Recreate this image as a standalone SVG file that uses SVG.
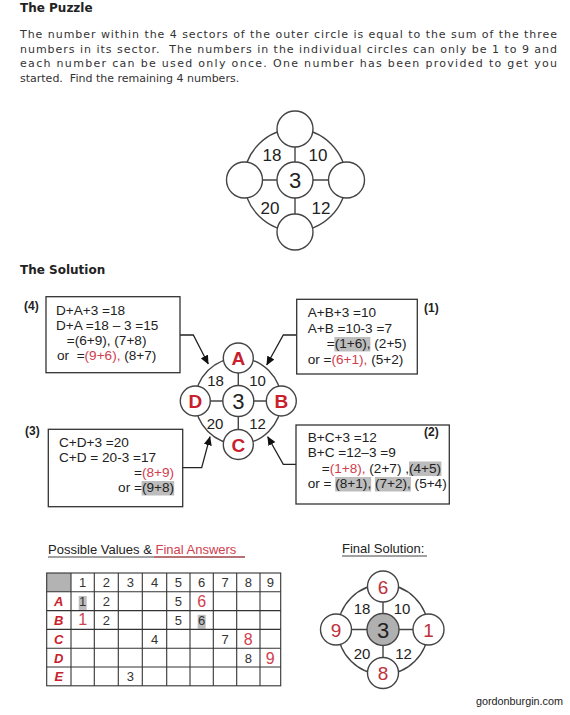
<svg xmlns="http://www.w3.org/2000/svg" width="570" height="715" viewBox="0 0 570 715">
<defs>
<style>
text{font-family:"Liberation Sans",Arial,sans-serif;fill:#222;white-space:pre}
.head{font-family:"DejaVu Sans",Verdana,sans-serif;font-weight:bold;font-size:12px;fill:#222}
.para{font-family:"DejaVu Sans",Verdana,sans-serif;font-size:11px;fill:#333}
.ring{fill:none;stroke:#444;stroke-width:1.4}
.spoke{stroke:#444;stroke-width:1.4}
.node{fill:#fff;stroke:#444;stroke-width:1.4}
.num17{font-size:17px;text-anchor:middle}
.num15{font-size:15px;text-anchor:middle}
.big{font-size:22px;text-anchor:middle}
.let{font-size:19px;font-weight:bold;fill:#c8202c;text-anchor:middle}
.box{fill:#fff;stroke:#333;stroke-width:1.3}
.bt{font-size:13.6px;fill:#222}
.red{fill:#d0404e}
.hl{fill:#bdbdbd}
.tag{font-size:12px;font-weight:bold;fill:#222}
.conn{fill:none;stroke:#222;stroke-width:1.3}
.grid{stroke:#333;stroke-width:1.1}
.tn{font-size:13px;text-anchor:middle;fill:#333}
.tr{font-size:16px;text-anchor:middle;fill:#d0404e}
.rl{font-size:13px;font-weight:bold;font-style:italic;fill:#c8202c;text-anchor:middle}
.fs{font-size:19px;text-anchor:middle;fill:#c0303c}
</style>
<marker id="ah" markerWidth="9" markerHeight="8" refX="8.5" refY="4" orient="auto" markerUnits="userSpaceOnUse">
<path d="M0,0 L9,4 L0,8 Z" fill="#111"/>
</marker>
</defs>
<rect width="570" height="715" fill="#fff"/>

<text class="head" x="20" y="12">The Puzzle</text>
<text class="para" x="20" y="38" textLength="537" lengthAdjust="spacing">The number within the 4 sectors of the outer circle is equal to the sum of the three</text>
<text class="para" x="20" y="53" textLength="537" lengthAdjust="spacing">numbers in its sector.  The numbers in the individual circles can only be 1 to 9 and</text>
<text class="para" x="20" y="67" textLength="537" lengthAdjust="spacing">each number can be used only once. One number has been provided to get you</text>
<text class="para" x="20" y="82">started.  Find the remaining 4 numbers.</text>

<g id="puzzle">
<circle class="ring" cx="295" cy="180" r="51"/>
<line class="spoke" x1="295" y1="129" x2="295" y2="231"/>
<line class="spoke" x1="244" y1="180" x2="346" y2="180"/>
<g id="p-top"><circle class="node" cx="295" cy="129" r="18"/></g>
<g id="p-left"><circle class="node" cx="244.5" cy="180" r="18"/></g>
<g id="p-right"><circle class="node" cx="346.5" cy="180" r="18"/></g>
<g id="p-bottom"><circle class="node" cx="295" cy="232" r="18"/></g>
<g id="p-center"><circle class="node" cx="295" cy="180" r="18"/><text class="big" x="295" y="188">3</text></g>
<text class="num17" x="272" y="161">18</text>
<text class="num17" x="318" y="161">10</text>
<text class="num17" x="270" y="214">20</text>
<text class="num17" x="321" y="214">12</text>
</g>

<text class="head" x="20" y="274">The Solution</text>

<g id="connectors">
<polyline class="conn" points="180,335 193.3,335 208.3,364" marker-end="url(#ah)"/>
<polyline class="conn" points="296.7,335 283.3,335 266.7,365" marker-end="url(#ah)"/>
<polyline class="conn" points="182,467.7 201.7,467.7 210,436.7" marker-end="url(#ah)"/>
<polyline class="conn" points="296,464.3 283.3,464.3 267.7,436.7" marker-end="url(#ah)"/>
</g>

<g id="solution">
<circle class="ring" cx="238.3" cy="401" r="43"/>
<line class="spoke" x1="238.3" y1="358" x2="238.3" y2="444"/>
<line class="spoke" x1="195.3" y1="401" x2="281.3" y2="401"/>
<g id="s-A"><circle class="node" cx="238.3" cy="358" r="15"/><text class="let" x="238.3" y="365">A</text></g>
<g id="s-D"><circle class="node" cx="195.3" cy="401" r="15"/><text class="let" x="195.3" y="408">D</text></g>
<g id="s-B"><circle class="node" cx="281.3" cy="401" r="15"/><text class="let" x="281.3" y="408">B</text></g>
<g id="s-C"><circle class="node" cx="238.3" cy="444.5" r="15"/><text class="let" x="238.3" y="451.5">C</text></g>
<g id="s-center"><circle class="node" cx="238.3" cy="401" r="15.5"/><text class="big" x="238.3" y="409">3</text></g>
<text class="num15" x="215.5" y="385.5">18</text>
<text class="num15" x="257.5" y="385.5">10</text>
<text class="num15" x="215" y="429">20</text>
<text class="num15" x="257.5" y="429">12</text>
</g>

<g id="box4">
<text class="tag" x="24" y="310">(4)</text>
<rect class="box" x="46" y="296.7" width="134" height="76"/>
<text class="bt" x="56" y="315">D+A+3 =18</text>
<text class="bt" x="56" y="330">D+A =18 – 3 =15</text>
<text class="bt" x="66.7" y="345">=(6+9), (7+8)</text>
<text class="bt" x="57" y="360">or  =<tspan class="red">(9+6),</tspan> (8+7)</text>
</g>

<g id="box1">
<rect class="box" x="296.7" y="299.3" width="120.6" height="74.7"/>
<text class="tag" x="424" y="312">(1)</text>
<text class="bt" x="307.7" y="317">A+B+3 =10</text>
<text class="bt" x="307.7" y="332.5">A+B =10-3 =7</text>
<rect class="hl" x="334.4" y="337" width="36" height="14.5"/>
<text class="bt" x="326.7" y="348">=(1+6), (2+5)</text>
<text class="bt" x="307.7" y="363.5">or =<tspan class="red">(6+1),</tspan> (5+2)</text>
</g>

<g id="box3">
<text class="tag" x="25" y="435">(3)</text>
<rect class="box" x="48.3" y="429.3" width="134.4" height="77.4"/>
<text class="bt" x="59" y="447">C+D+3 =20</text>
<text class="bt" x="59" y="462">C+D = 20-3 =17</text>
<text class="bt" x="174" y="477" text-anchor="end">=<tspan class="red">(8+9)</tspan></text>
<rect class="hl" x="141.6" y="481" width="32.6" height="14.5"/>
<text class="bt" x="174" y="492" text-anchor="end">or =(9+8)</text>
</g>

<g id="box2">
<rect class="box" x="296" y="425" width="153.3" height="79"/>
<text class="tag" x="424" y="436">(2)</text>
<text class="bt" x="307.7" y="441.5">B+C+3 =12</text>
<text class="bt" x="307.7" y="457">B+C =12–3 =9</text>
<rect class="hl" x="409" y="461.5" width="32.4" height="14.5"/>
<text class="bt" x="321.7" y="472.5">=<tspan class="red">(1+8),</tspan> (2+7) ,(4+5)</text>
<rect class="hl" x="335.2" y="477" width="36" height="14.5"/>
<rect class="hl" x="374.9" y="477" width="36" height="14.5"/>
<text class="bt" x="307.7" y="488">or = (8+1), (7+2), (5+4)</text>
</g>

<g id="table">
<text x="48" y="554" font-size="13" fill="#222">Possible Values &amp; <tspan class="red" fill="#d0404e">Final Answers</tspan></text>
<line x1="48" y1="557" x2="245" y2="557" stroke="#444" stroke-width="1"/>
<line x1="154" y1="557" x2="245" y2="557" stroke="#d0404e" stroke-width="1"/>
<rect x="46.7" y="573" width="24.3" height="18.8" fill="#b3b3b3"/>
<rect class="hl" x="78.7" y="596" width="8" height="14"/>
<rect class="hl" x="197.7" y="614.8" width="8" height="14"/>
<g class="grid">
<rect x="46.7" y="573" width="234" height="112.8" fill="none"/>
<line x1="46.7" y1="591.8" x2="280.7" y2="591.8"/>
<line x1="46.7" y1="610.6" x2="280.7" y2="610.6"/>
<line x1="46.7" y1="629.4" x2="280.7" y2="629.4"/>
<line x1="46.7" y1="648.2" x2="280.7" y2="648.2"/>
<line x1="46.7" y1="667" x2="280.7" y2="667"/>
<line x1="71" y1="573" x2="71" y2="685.8"/>
<line x1="94.3" y1="573" x2="94.3" y2="685.8"/>
<line x1="118.3" y1="573" x2="118.3" y2="685.8"/>
<line x1="142.3" y1="573" x2="142.3" y2="685.8"/>
<line x1="166.7" y1="573" x2="166.7" y2="685.8"/>
<line x1="190" y1="573" x2="190" y2="685.8"/>
<line x1="213.3" y1="573" x2="213.3" y2="685.8"/>
<line x1="236.7" y1="573" x2="236.7" y2="685.8"/>
<line x1="260" y1="573" x2="260" y2="685.8"/>
</g>
<text class="tn" x="82.7" y="587">1</text>
<text class="tn" x="106.3" y="587">2</text>
<text class="tn" x="130.3" y="587">3</text>
<text class="tn" x="154.5" y="587">4</text>
<text class="tn" x="178.3" y="587">5</text>
<text class="tn" x="201.7" y="587">6</text>
<text class="tn" x="225" y="587">7</text>
<text class="tn" x="248.3" y="587">8</text>
<text class="tn" x="270.3" y="587">9</text>
<text class="rl" x="58.8" y="606">A</text>
<text class="rl" x="58.8" y="625">B</text>
<text class="rl" x="58.8" y="643.5">C</text>
<text class="rl" x="58.8" y="662.5">D</text>
<text class="rl" x="58.8" y="681">E</text>
<text class="tn" x="82.7" y="606">1</text>
<text class="tn" x="106.3" y="606">2</text>
<text class="tn" x="178.3" y="606">5</text>
<text class="tr" x="201.7" y="607">6</text>
<text class="tr" x="82.7" y="625" font-size="15">1</text>
<text class="tn" x="106.3" y="625">2</text>
<text class="tn" x="178.3" y="625">5</text>
<text class="tn" x="201.7" y="625">6</text>
<text class="tn" x="154.5" y="643.5">4</text>
<text class="tn" x="225" y="643.5">7</text>
<text class="tr" x="248.3" y="644.5">8</text>
<text class="tn" x="248.3" y="662.5">8</text>
<text class="tr" x="270.3" y="663.5">9</text>
<text class="tn" x="130.3" y="681">3</text>
</g>

<g id="final">
<text x="342" y="553" font-size="13" fill="#222">Final Solution:</text>
<line x1="342" y1="556" x2="427" y2="556" stroke="#444" stroke-width="1"/>
<circle class="ring" cx="383" cy="629.5" r="45"/>
<line class="spoke" x1="383" y1="585" x2="383" y2="674"/>
<line class="spoke" x1="337" y1="629.5" x2="429" y2="629.5"/>
<g id="f-top"><circle class="node" cx="383" cy="586.5" r="15.5"/><text class="fs" x="383" y="593.5">6</text></g>
<g id="f-left"><circle class="node" cx="336" cy="629.5" r="15.5"/><text class="fs" x="336" y="636.5">9</text></g>
<g id="f-right"><circle class="node" cx="428.5" cy="629.5" r="15.5"/><text class="fs" x="428.5" y="636.5">1</text></g>
<g id="f-bottom"><circle class="node" cx="383" cy="673" r="15.5"/><text class="fs" x="383" y="680">8</text></g>
<g id="f-center"><circle cx="383" cy="629.5" r="16" fill="#b0b0b0" stroke="#444" stroke-width="1.4"/><text class="big" x="383" y="637.5" font-size="21">3</text></g>
<text class="num15" x="362" y="613.5">18</text>
<text class="num15" x="402" y="613.5">10</text>
<text class="num15" x="362" y="658.5">20</text>
<text class="num15" x="403.5" y="658.5">12</text>
</g>

<text x="563" y="705" font-size="10.8" text-anchor="end" fill="#222">gordonburgin.com</text>
</svg>
